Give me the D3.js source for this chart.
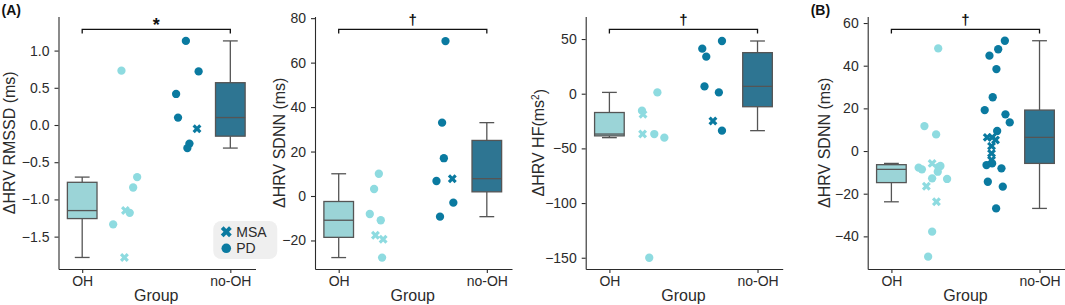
<!DOCTYPE html>
<html>
<head>
<meta charset="utf-8">
<script src="https://cdn.jsdelivr.net/npm/d3@7"></script>
<style>
body { margin: 0; background: #fff; }
svg { display: block; font-family: "Liberation Sans", Arial, sans-serif; }
</style>
</head>
<body>
<script>
const width = 1065, height = 305;

const groups = ["OH", "no-OH"];

// (A) RMSSD
const rmssdOH = [0.73, -0.70, -0.84, -1.15, -1.18, -1.335, -1.78];
const rmssdOHX = [0.265, 0.371, 0.344, 0.292, 0.321, 0.209, 0.285];
const rmssdOHType = ["PD", "PD", "PD", "MSA", "PD", "PD", "MSA"];
const rmssdNo = [1.13, 0.72, 0.417, 0.10, -0.05, -0.25, -0.31];
const rmssdNoX = [0.700, 0.786, 0.634, 0.647, 0.775, 0.724, 0.710];
const rmssdNoType = ["PD", "PD", "PD", "PD", "MSA", "PD", "PD"];

// (A) SDNN
const sdnnOH = [10.0, 3.15, -8.1, -10.9, -17.7, -19.5, -27.7];
const sdnnOHX = [0.271, 0.239, 0.210, 0.284, 0.248, 0.300, 0.293];
const sdnnOHType = ["PD", "PD", "PD", "PD", "MSA", "MSA", "PD"];
const sdnnNo = [69.7, 33.0, 17.0, 6.75, 7.8, -3.0, -9.3];
const sdnnNoX = [0.721, 0.698, 0.710, 0.660, 0.767, 0.774, 0.684];
const sdnnNoType = ["PD", "PD", "PD", "PD", "MSA", "PD", "PD"];

// (A) HF
const hfOH = [-15.5, -18.9, 1.2, -36.9, -36.9, -40.2, -150];
const hfOHX = [0.220, 0.227, 0.324, 0.224, 0.303, 0.371, 0.269];
const hfOHType = ["PD", "MSA", "PD", "MSA", "PD", "PD", "PD"];
const hfNo = [41.2, 33.9, 48.2, 6.7, 1.2, -25.0, -33.8];
const hfNoX = [0.627, 0.654, 0.760, 0.642, 0.739, 0.699, 0.760];
const hfNoType = ["PD", "PD", "PD", "PD", "PD", "MSA", "PD"];

// (B) SDNN
const sdnnBOH = [48.1, 11.7, 7.8, -5.8, -7.0, -7.5, -7.8, -8.6, -9.7, -12.8, -13.1, -16.5, -23.8, -37.8, -49.5];
const sdnnBOHX = [0.316, 0.223, 0.302, 0.275, 0.331, 0.318, 0.184, 0.206, 0.313, 0.275, 0.376, 0.236, 0.304, 0.275, 0.248];
const sdnnBOHType = ["PD", "PD", "PD", "MSA", "PD", "PD", "PD", "PD", "PD", "PD", "PD", "MSA", "MSA", "PD", "PD"];
const sdnnBNo = [51.7, 47.7, 44.7, 38.4, 25.2, 19.2, 17.2, 13.4, 9.4, 6.4, 6.4, 5.2, 2.3, -1.1, -4.2, -5.8, -6.6, -8.1, -14.4, -16.7, -26.9];
const sdnnBNoX = [0.766, 0.721, 0.662, 0.709, 0.684, 0.630, 0.770, 0.799, 0.714, 0.647, 0.680, 0.703, 0.676, 0.676, 0.676, 0.680, 0.642, 0.743, 0.651, 0.752, 0.707];
const sdnnBNoType = ["PD", "PD", "PD", "PD", "PD", "PD", "PD", "PD", "PD", "MSA", "MSA", "MSA", "MSA", "MSA", "MSA", "PD", "PD", "PD", "PD", "PD", "PD"];

const ticksRmssd = [-1.5, -1.0, -0.5, 0.0, 0.5, 1.0];
const ticksSdnn = [-20, 0, 20, 40, 60, 80];
const ticksHf = [-150, -100, -50, 0, 50];
const ticksSdnnB = [-40, -20, 0, 20, 40, 60];

const legendItems = ["MSA", "PD"];

const ptColor = ["#8edbe0", "#0a7aa0"];
const boxColor = ["#9bd4d7", "#2e7592"];
const lineColor = "#555";
const axisColor = "#2b2b2b";

const panels = [
  { left: 58.5, tag: "(A)", title: "ΔHRV RMSSD (ms)", titleX: 9.5, domain: [-1.935, 1.458], ticks: ticksRmssd, fmt: d3.format(".1f"), sig: "*",
    sets: [[rmssdOH, rmssdOHX, rmssdOHType], [rmssdNo, rmssdNoX, rmssdNoType]], legend: true },
  { left: 315, title: "ΔHRV SDNN (ms)", titleX: 279, domain: [-32.84, 80.75], ticks: ticksSdnn, fmt: d3.format("d"), sig: "†",
    sets: [[sdnnOH, sdnnOHX, sdnnOHType], [sdnnNo, sdnnNoX, sdnnNoType]] },
  { left: 585.7, title: "ΔHRV HF(ms", sup: "2", titleX: 538, domain: [-160.3, 70.6], ticks: ticksHf, fmt: d3.format("d"), sig: "†",
    sets: [[hfOH, hfOHX, hfOHType], [hfNo, hfNoX, hfNoType]] },
  { left: 867.7, tag: "(B)", title: "ΔHRV SDNN (ms)", titleX: 824, domain: [-55.3, 63.06], ticks: ticksSdnnB, fmt: d3.format("d"), sig: "†",
    sets: [[sdnnBOH, sdnnBOHX, sdnnBOHType], [sdnnBNo, sdnnBNoX, sdnnBNoType]] }
];

const axTop = 16.5, axBottom = 269, axW = 197;

const svg = d3.select("body").append("svg")
  .attr("width", width)
  .attr("height", height);

const crossPath = size => d3.symbol(d3.symbolCross, size)();

function boxStats(v) {
  const s = v.slice().sort(d3.ascending);
  const q1 = d3.quantileSorted(s, 0.25), med = d3.quantileSorted(s, 0.5), q3 = d3.quantileSorted(s, 0.75);
  const iqr = q3 - q1;
  const lo = d3.min(s.filter(d => d >= q1 - 1.5 * iqr));
  const hi = d3.max(s.filter(d => d <= q3 + 1.5 * iqr));
  return { q1, med, q3, lo, hi };
}

panels.forEach(p => {
  const x = d3.scaleLinear().domain([-0.16, 1.17]).range([p.left, p.left + axW]);
  const y = d3.scaleLinear().domain(p.domain).range([axBottom, axTop]);
  const g = svg.append("g");

  // axes
  const ya = g.append("g")
    .attr("transform", `translate(${p.left},0)`)
    .call(d3.axisLeft(y).tickValues(p.ticks).tickFormat(p.fmt).tickSize(4).tickPadding(5).tickSizeOuter(0));
  const xa = g.append("g")
    .attr("transform", `translate(0,${axBottom})`)
    .call(d3.axisBottom(x).tickValues([0, 1]).tickFormat((d, i) => groups[i]).tickSize(4).tickPadding(3).tickSizeOuter(0));
  [ya, xa].forEach(a => {
    a.attr("font-family", null).attr("font-size", null);
    a.selectAll("path, line").attr("stroke", axisColor).attr("stroke-width", 1.1);
    a.selectAll("text").attr("fill", axisColor).style("font-size", "14px");
  });

  // box plots
  p.sets.forEach((set, gi) => {
    const s = boxStats(set[0]);
    const bw = 0.2, cx = gi;
    const bg = g.append("g").attr("stroke", lineColor).attr("stroke-width", 1.3);
    bg.append("line").attr("x1", x(cx)).attr("x2", x(cx)).attr("y1", y(s.q3)).attr("y2", y(s.hi));
    bg.append("line").attr("x1", x(cx)).attr("x2", x(cx)).attr("y1", y(s.q1)).attr("y2", y(s.lo));
    [s.hi, s.lo].forEach(v => bg.append("line")
      .attr("x1", x(cx - bw / 4)).attr("x2", x(cx + bw / 4)).attr("y1", y(v)).attr("y2", y(v)));
    bg.append("rect")
      .attr("x", x(cx - bw / 2)).attr("width", x(cx + bw / 2) - x(cx - bw / 2))
      .attr("y", y(s.q3)).attr("height", y(s.q1) - y(s.q3))
      .attr("fill", boxColor[gi]);
    bg.append("line").attr("x1", x(cx - bw / 2)).attr("x2", x(cx + bw / 2)).attr("y1", y(s.med)).attr("y2", y(s.med));

    // points
    const pts = set[0].map((v, i) => ({ v, px: set[1][i], t: set[2][i] }));
    g.append("g").selectAll("path")
      .data(pts)
      .join("path")
      .attr("transform", d => `translate(${x(d.px)},${y(d.v)}) rotate(${d.t === "MSA" ? 45 : 0})`)
      .attr("d", d => d.t === "MSA" ? crossPath(50) : d3.symbol(d3.symbolCircle, 54)())
      .attr("fill", ptColor[gi]);
  });

  // significance bracket
  const by = axTop + 12.8;
  g.append("path")
    .attr("d", `M${x(0)},${by + 4.2}V${by}H${x(1)}V${by + 4.2}`)
    .attr("fill", "none").attr("stroke", "#111").attr("stroke-width", 1.3);
  g.append("text")
    .attr("x", x(0.5)).attr("y", p.sig === "*" ? by + 2 : by - 4)
    .attr("text-anchor", "middle")
    .attr("font-weight", "bold")
    .style("font-size", p.sig === "*" ? "18px" : "15px")
    .attr("fill", "#111")
    .text(p.sig);

  // axis titles
  g.append("text")
    .attr("x", x(0.5)).attr("y", 300.5)
    .attr("text-anchor", "middle")
    .style("font-size", "16px").attr("fill", axisColor)
    .text("Group");
  const yt = g.append("text")
    .attr("transform", `translate(${p.titleX},${(axTop + axBottom) / 2}) rotate(-90)`)
    .attr("dy", "0.35em")
    .attr("text-anchor", "middle")
    .style("font-size", "16px").attr("fill", axisColor);
  yt.append("tspan").text(p.title);
  if (p.sup) {
    yt.append("tspan").attr("dy", "-0.45em").style("font-size", "10px").text(p.sup);
    yt.append("tspan").attr("dy", "0.45em").text(")");
  }

  if (p.tag) {
    g.append("text")
      .attr("x", p.left - 57).attr("y", 15)
      .attr("font-weight", "bold")
      .style("font-size", "14px").attr("fill", "#111")
      .text(p.tag);
  }

  if (p.legend) {
    const lg = g.append("g").attr("transform", `translate(${x(0.885)},${y(-1.29)})`);
    lg.append("rect").attr("width", 64).attr("height", 38).attr("rx", 8).attr("fill", "#efefef");
    legendItems.forEach((k, i) => {
      lg.append("path")
        .attr("transform", `translate(13,${10.7 + i * 16.6}) rotate(${k === "MSA" ? 45 : 0})`)
        .attr("d", k === "MSA" ? crossPath(75) : d3.symbol(d3.symbolCircle, 72)())
        .attr("fill", ptColor[1]);
      lg.append("text")
        .attr("x", 23).attr("y", 15.7 + i * 16.6)
        .style("font-size", "14px").attr("fill", axisColor)
        .text(k);
    });
  }
});
</script>
</body>
</html>
